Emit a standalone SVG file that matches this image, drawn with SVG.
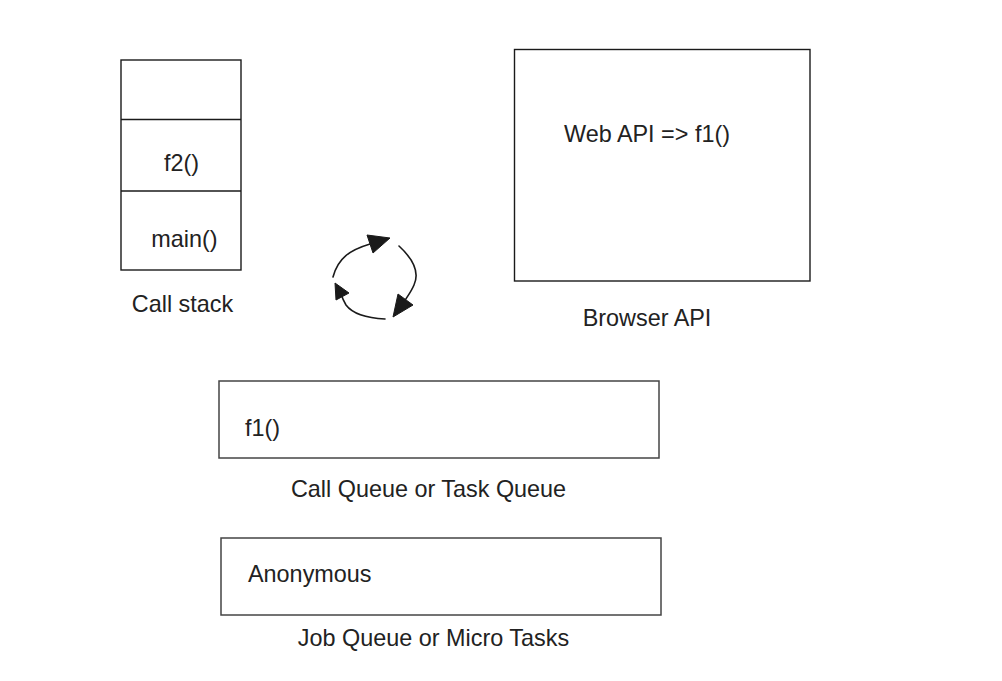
<svg xmlns="http://www.w3.org/2000/svg" width="1002" height="681" viewBox="0 0 1002 681">
<style>
.box{fill:none;stroke:#1a1a1a;stroke-width:1.4}
.q{fill:none;stroke:#444;stroke-width:1.5}
.t{font-family:"Liberation Sans",Arial,sans-serif;font-size:23.4px;fill:#222}
.c{fill:none;stroke:#1a1a1a;stroke-width:1.6;stroke-linecap:round}
.h{fill:#1a1a1a;stroke:#1a1a1a;stroke-width:1}
</style>
<rect width="1002" height="681" fill="#fff"/>
<g id="call-stack">
<rect class="box" x="121" y="60" width="120" height="210"/>
<line class="box" x1="121" y1="119.5" x2="241" y2="119.5"/>
<line class="box" x1="121" y1="191" x2="241" y2="191"/>
<text class="t" x="181.5" y="171" text-anchor="middle">f2()</text>
<text class="t" x="184.5" y="247" text-anchor="middle">main()</text>
<text class="t" x="182.5" y="312" text-anchor="middle">Call stack</text>
</g>
<g id="browser-api">
<rect class="box" x="514.5" y="49.5" width="295.5" height="231.5"/>
<text class="t" x="564" y="142">Web API =&gt; f1()</text>
<text class="t" x="647" y="326" text-anchor="middle">Browser API</text>
</g>
<g id="task-queue">
<rect class="q" x="219" y="381" width="440" height="77"/>
<text class="t" x="245" y="436">f1()</text>
<text class="t" x="428.5" y="497" text-anchor="middle">Call Queue or Task Queue</text>
</g>
<g id="micro-queue">
<rect class="q" x="221" y="538" width="440" height="77"/>
<text class="t" x="248" y="582">Anonymous</text>
<text class="t" x="433.5" y="646" text-anchor="middle">Job Queue or Micro Tasks</text>
</g>
<g id="connectors">
<path class="c" d="M333,277 C338,258 350,250 370,244"/>
<polygon class="h" points="367,235 390,238 373,253"/>
<path class="c" d="M399,246 C412,258 420,272 414,285 C411,292 407,297 404,302"/>
<polygon class="h" points="398,294 413,305 393,317"/>
<path class="c" d="M385,319 C365,318 352,313 346,305 C343,300 342,297 341,294"/>
<polygon class="h" points="335,283 349,293 336,300"/>
</g>
</svg>
